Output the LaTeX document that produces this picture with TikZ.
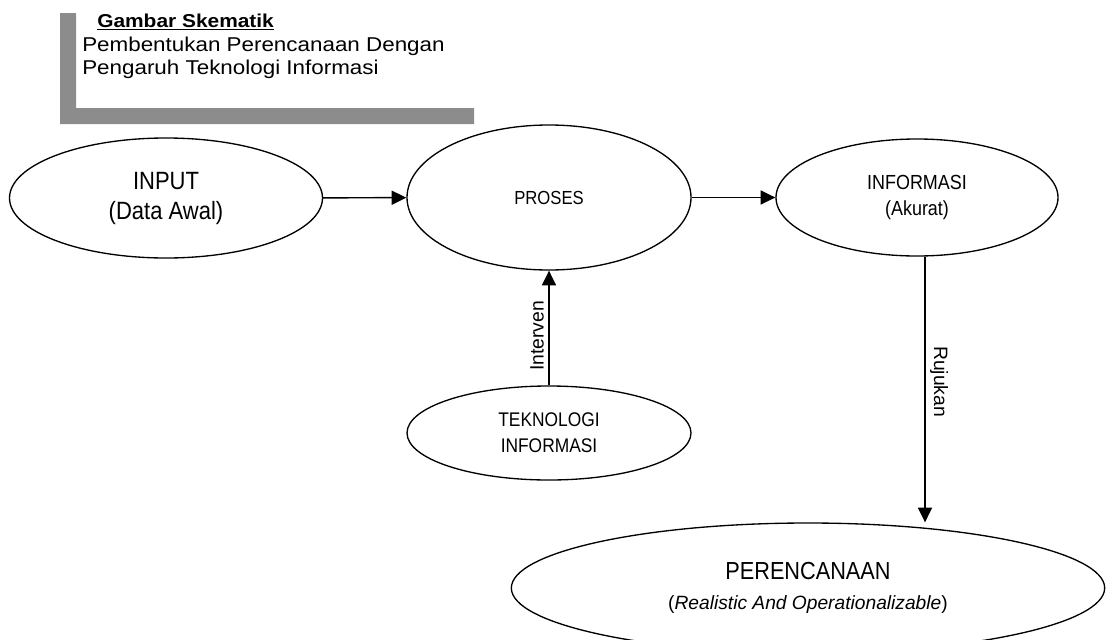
\documentclass[tikz,border=0pt]{standalone}
\usepackage{fontspec}
\setmainfont{Liberation Sans}
\newfontfamily\headfont{Liberation Sans}[FakeStretch=1.12]
\newfontfamily\nodefont{Liberation Sans}[FakeStretch=0.88]
\usetikzlibrary{shapes.geometric, arrows.meta}
\tikzstyle{bubble} = [ellipse, draw=black, line width=1pt, inner sep=0pt, align=center]
\tikzstyle{headbar} = [fill=black!45, draw=none]
\tikzstyle{headtext} = [anchor=base west, inner sep=0pt]
\tikzstyle{arrow} = [line width=1.1pt, -{Triangle[length=11pt, width=10.5pt]}]
\tikzstyle{arrowtext} = [midway, sloped, above, font=\fontsize{14.5}{17}\selectfont]

\begin{document}
\begin{tikzpicture}[x=0.75pt, y=-0.75pt]
\useasboundingbox (0,0) rectangle (1112,639);
% judul gambar
\fill [headbar] (60,13) -- (76,13) -- (76,108) -- (474,108) -- (474,124) -- (60,124) -- cycle;
\node (judul) [headtext, font=\headfont\fontsize{14}{17}\selectfont\bfseries] at (97,27) {\underline{Gambar Skematik}};
\node (sub1) [headtext, font=\headfont\fontsize{15}{18}\selectfont] at (82,51) {Pembentukan Perencanaan Dengan};
\node (sub2) [headtext, font=\headfont\fontsize{15}{18}\selectfont] at (82,74) {Pengaruh Teknologi Informasi};
% bagan
\node (input) [bubble, minimum width=234.75pt, minimum height=90pt, font=\nodefont\fontsize{18.75}{22.5}\selectfont] at (166,198) {INPUT\\(Data Awal)};
\node (proses) [bubble, minimum width=213pt, minimum height=108.75pt, font=\nodefont\fontsize{14.2}{17}\selectfont] at (549,197.5) {PROSES};
\node (informasi) [bubble, minimum width=211.5pt, minimum height=87.75pt, font=\nodefont\fontsize{15.3}{19.5}\selectfont] at (917,197.5) {INFORMASI\\(Akurat)};
\node (teknologi) [bubble, minimum width=213pt, minimum height=70.5pt, font=\nodefont\fontsize{14.8}{19.5}\selectfont] at (549,433) {TEKNOLOGI\\INFORMASI};
\node (perencanaan) [bubble, minimum width=445pt, minimum height=97.5pt, font=\nodefont\fontsize{18.5}{22.5}\selectfont] at (808,588) {PERENCANAAN\\{\normalfont\fontsize{14.4}{22.5}\selectfont(\textit{Realistic And Operationalizable})}};
\draw [arrow] (input) -- (proses);
\draw [arrow] (proses) -- (informasi);
\draw [arrow] (teknologi) -- node[arrowtext, pos=0.43]{Interven} (proses);
\draw [arrow] ([xshift=6pt]informasi.south) -- node[arrowtext, pos=0.47]{Rujukan} ([xshift=6pt]informasi.south |- perencanaan.north);
\end{tikzpicture}
\end{document}
